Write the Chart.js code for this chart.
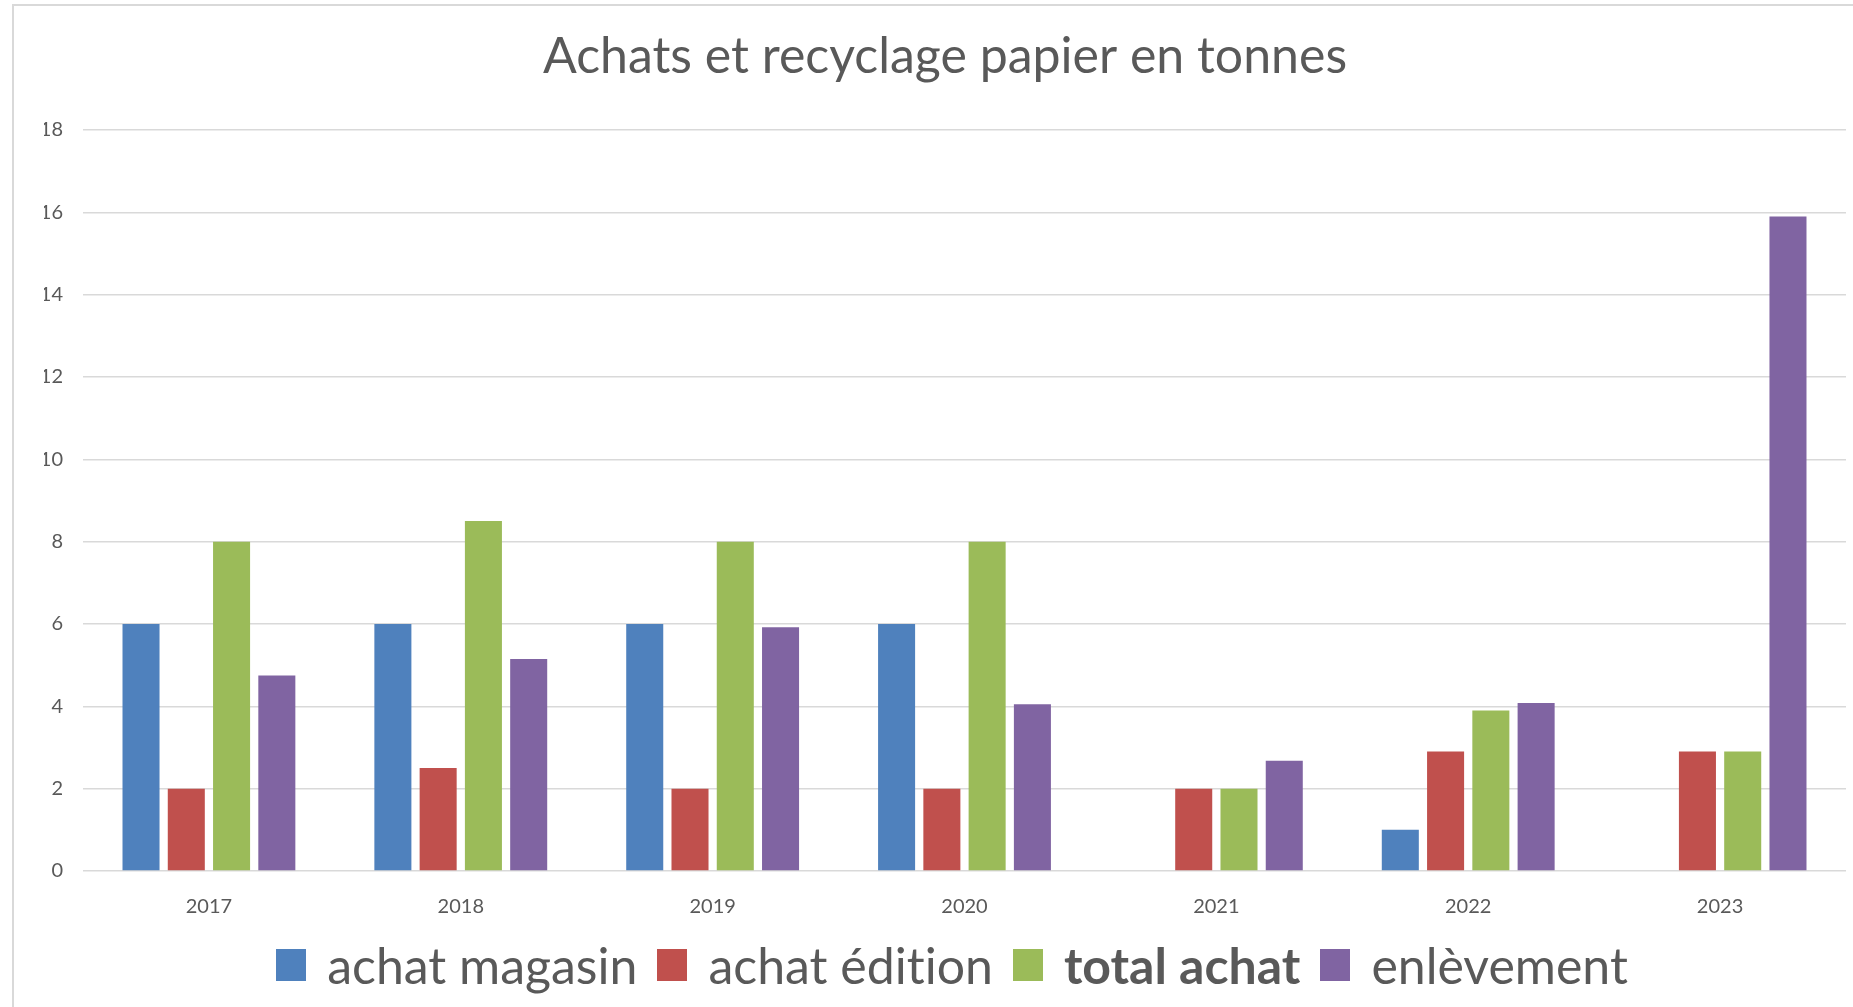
<!DOCTYPE html>
<html>
<head>
<meta charset="utf-8">
<title>Achats et recyclage papier en tonnes</title>
<script src="https://cdn.jsdelivr.net/npm/chart.js@4.4.1/dist/chart.umd.min.js"></script>
<style>
    body { margin: 0; background: #fff; overflow: hidden; font-family: Lato, sans-serif; }
    #frame { position: absolute; left: 12px; top: 4px; width: 1900px; height: 1100px; border: 2px solid #d9d9d9; box-sizing: border-box; }
    #chart_container { position: absolute; left: 0; top: 0; width: 1853px; height: 1007px; }
    #legend { position: absolute; left: 0; top: 940px; width: 1904px; display: flex; justify-content: center; align-items: center; color: #595959; font-size: 50px; line-height: 50px; font-variant-ligatures: none; font-feature-settings: "liga" 0; }
    .legend_item { display: flex; align-items: center; margin: 0 10px; }
    .legend_box { width: 30px; height: 32px; margin-right: 21px; }
</style>
</head>
<body>
<div id="frame"></div>
<div id="chart_container"><canvas id="paper_chart"></canvas></div>
<div id="legend"></div>
<script>
const years = ['2017', '2018', '2019', '2020', '2021', '2022', '2023'];
const achat_magasin = [6, 6, 6, 6, null, 1, null];
const achat_edition = [2, 2.5, 2, 2, 2, 2.9, 2.9];
const total_achat = [8, 8.5, 8, 8, 2, 3.9, 2.9];
const enlevement = [4.75, 5.15, 5.92, 4.05, 2.68, 4.08, 15.9];
const series_names = ['achat magasin', 'achat édition', 'total achat', 'enlèvement'];
const series_colors = ['#4F81BD', '#C0504D', '#9BBB59', '#8064A2'];
const bold_series = ['total achat'];
const y_min = 0;
const y_max = 18;
const y_step = 2;

const text_color = '#595959';
const grid_color = '#d9d9d9';

const series_values = [achat_magasin, achat_edition, total_achat, enlevement];

const datasets = series_names.map((name, i) => ({
    label: name,
    data: series_values[i],
    backgroundColor: series_colors[i],
    borderWidth: 0,
    categoryPercentage: 0.719,
    barPercentage: 0.818
}));

const ctx = document.getElementById('paper_chart').getContext('2d');
const myChart = new Chart(ctx, {
    type: 'bar',
    data: {
        labels: years,
        datasets: datasets
    },
    options: {
        responsive: true,
        maintainAspectRatio: false,
        animation: false,
        layout: {
            padding: { left: 44, right: 7, top: 0, bottom: 0 }
        },
        scales: {
            x: {
                grid: { display: false },
                border: { display: false },
                ticks: {
                    color: text_color,
                    font: { family: 'Lato', size: 20 },
                    padding: 16
                },
                afterFit: (scale) => { scale.height = 136; }
            },
            y: {
                min: y_min,
                max: y_max,
                grid: { color: grid_color, lineWidth: 1.5, drawTicks: false },
                border: { display: false },
                ticks: {
                    stepSize: y_step,
                    color: text_color,
                    font: { family: 'Lato', size: 20 },
                    padding: 20
                },
                afterFit: (scale) => { scale.width = 39; }
            }
        },
        plugins: {
            legend: { display: false },
            tooltip: { enabled: false },
            title: {
                display: true,
                text: 'Achats et recyclage papier en tonnes',
                color: text_color,
                font: { family: 'Lato', size: 50, weight: 'normal' },
                padding: { top: 27, bottom: 43 }
            }
        }
    }
});

// legend drawn in html so one entry can be bold like the original
const legend_div = document.getElementById('legend');
myChart.data.datasets.forEach(ds => {
    const item = document.createElement('div');
    item.className = 'legend_item';
    const box = document.createElement('span');
    box.className = 'legend_box';
    box.style.background = ds.backgroundColor;
    const label = document.createElement('span');
    label.textContent = ds.label;
    if (bold_series.includes(ds.label)) {
        label.style.fontWeight = 'bold';
    }
    item.appendChild(box);
    item.appendChild(label);
    legend_div.appendChild(item);
});
</script>
</body>
</html>
